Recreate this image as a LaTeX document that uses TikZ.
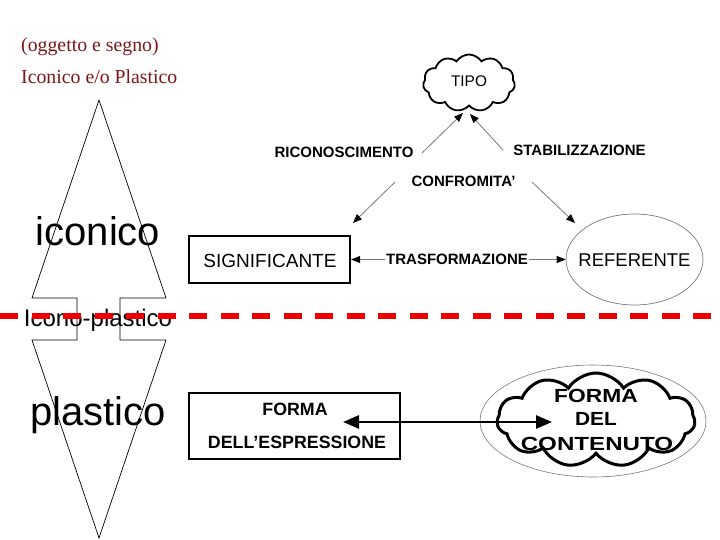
\documentclass[tikz,border=0pt]{standalone}
\usepackage{fontspec}
\setmainfont{Liberation Sans}
\newfontfamily\redserif{Liberation Serif}
\usetikzlibrary{shapes.symbols,shapes.geometric,arrows.meta}
\definecolor{darkred}{RGB}{125,22,22}
\definecolor{linegray}{RGB}{120,120,120}
\definecolor{dashred}{RGB}{236,0,0}
\begin{document}
\begin{tikzpicture}[x=1pt,y=-1pt,
  lab/.style={font=\fontsize{15}{18}\selectfont\bfseries, inner sep=0pt, anchor=base},
  big/.style={font=\fontsize{40}{44}\selectfont, inner sep=0pt, anchor=base},
  mid/.style={font=\fontsize{18.5}{22}\selectfont, inner sep=0pt, anchor=base},
  redtxt/.style={font=\redserif\fontsize{19.8}{22}\selectfont, text=darkred, inner sep=0pt, anchor=base west},
  graytip/.style={draw=linegray, line width=0.8pt, -{Triangle[color=black,length=9pt,width=7pt]}},
  graytwo/.style={draw=linegray, line width=0.8pt, {Triangle[color=black,length=9pt,width=7pt]}-{Triangle[color=black,length=9pt,width=7pt]}},
  thickbox/.style={draw, line width=2.4pt, inner sep=0pt},
  boxtxt/.style={font=\fontsize{17.8}{20}\selectfont\bfseries, inner sep=0pt, anchor=base},
  cloudtxt/.style={font=\fontsize{19}{24}\selectfont\bfseries, inner sep=0pt, anchor=base},
]
\useasboundingbox (0,0) rectangle (720,540);

% top red text
\node[redtxt] (t1) at (21,52) {(oggetto e segno)};
\node[redtxt] (t2) at (21,84) {Iconico e/o Plastico};

% left double arrow shape
\draw[line width=0.7pt] (99,100) -- (166,298) -- (120,298) -- (120,340) -- (166,340) -- (99,538)
  -- (32,340) -- (77,340) -- (77,298) -- (32,298) -- cycle;
\node[big] (ico) at (98,245) {iconico};
\node[big] (pla) at (98,425) {plastico};
\node[font=\fontsize{24}{28}\selectfont, inner sep=0pt, anchor=base] (icp) at (98,326) {Icono-plastico};

% red dashed separator
\draw[dashred, line width=5.5pt, dash pattern=on 18pt off 13.5pt] (0,316) -- (720,316);

% TIPO cloud
\node[cloud, draw, line width=1.8pt, cloud puffs=11, cloud puff arc=115, cloud ignores aspect,
  minimum width=92pt, minimum height=57pt, inner sep=0pt] (tipo) at (469,83) {};
\node[font=\fontsize{15.4}{18}\selectfont, inner sep=0pt, anchor=base] (tipot) at (469,87) {TIPO};

% labels
\node[lab] (rico) at (344,158) {RICONOSCIMENTO};
\node[lab] (stab) at (579.5,156) {STABILIZZAZIONE};
\node[lab] (conf) at (463.5,187) {CONFROMITA'};

% SIGNIFICANTE and REFERENTE
\node[thickbox, minimum width=161pt, minimum height=47pt] (sig) at (269.5,259.5) {};
\node[mid, font=\fontsize{19}{22}\selectfont] (sigt) at (270,267) {SIGNIFICANTE};
\node[ellipse, draw=linegray, line width=0.7pt, minimum width=137pt, minimum height=91pt, inner sep=0pt] (ref) at (634.5,259.5) {};
\node[mid] (reft) at (634.5,266) {REFERENTE};

% connectors upper
\coordinate (tipoL) at (463,113);
\coordinate (tipoR) at (470,114);
\coordinate (ricoE) at (422,153);
\coordinate (stabW) at (503,150);
\coordinate (confL) at (395,182);
\coordinate (confR) at (532,182);
\coordinate (sigTip) at (353,223);
\coordinate (refTip) at (575,223);
\draw[graytip] (ricoE) -- (tipoL);
\draw[graytip] (stabW) -- (tipoR);
\draw[graytip] (confL) -- (sigTip);
\draw[graytip] (confR) -- (refTip);
\draw[graytwo] (sig.east) -- (ref.west);
\node[lab, fill=white, inner xsep=1pt] (tras) at (457,264) {TRASFORMAZIONE};

% lower part
\node[thickbox, minimum width=211pt, minimum height=66pt] (fde) at (294.5,426) {};
\node[boxtxt] (fdet1) at (295,415) {FORMA};
\node[boxtxt] (fdet2) at (297,448) {DELL’ESPRESSIONE};

\node[ellipse, draw=linegray, line width=0.6pt, minimum width=226pt, minimum height=112pt, inner sep=0pt] (fdcell) at (593,421) {};
\node[cloud, draw, line width=3pt, cloud puffs=11, cloud puff arc=115, cloud ignores aspect,
  minimum width=198pt, minimum height=94pt, inner sep=0pt] (fdc) at (596,420) {};
\node[cloudtxt] (fdc1) at (596,402) {\scalebox{1.2}[1]{FORMA}};
\node[cloudtxt] (fdc2) at (596,425) {\scalebox{1.1}[1]{DEL}};
\node[cloudtxt] (fdc3) at (597,450) {\scalebox{1.27}[1]{CONTENUTO}};

\coordinate (arL) at (343,422);
\coordinate (arR) at (552,422);
\draw[line width=2.7pt, {Triangle[length=16pt,width=13pt]}-{Triangle[length=16pt,width=13pt]}] (arL) -- (arR);
\end{tikzpicture}
\end{document}
